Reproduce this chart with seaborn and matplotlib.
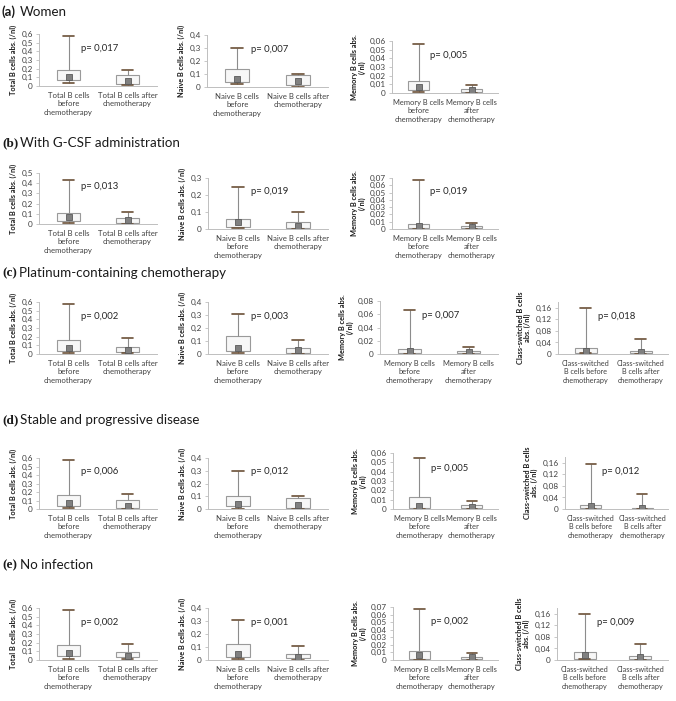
import numpy as np
import pandas as pd
import matplotlib
matplotlib.use("Agg")
import matplotlib.pyplot as plt
import seaborn as sns
from matplotlib.ticker import FuncFormatter, FixedLocator

sns.set_style("white")
plt.rcParams['font.family'] = ['Lato', 'DejaVu Sans']

# Row headings
row_labels = ['(a)', '(b)', '(c)', '(d)', '(e)']
row_titles = ['Women', 'With G-CSF administration', 'Platinum-containing chemotherapy',
              'Stable and progressive disease', 'No infection']

# Five-number summaries per row: min, q1, median, q3, max
total_before = [[0.04, 0.07, 0.10, 0.18, 0.58], [0.01, 0.03, 0.07, 0.105, 0.43],
                [0.015, 0.04, 0.075, 0.165, 0.58], [0.01, 0.03, 0.065, 0.165, 0.58],
                [0.015, 0.045, 0.08, 0.17, 0.58]]
total_after = [[0.01, 0.02, 0.06, 0.13, 0.18], [0.003, 0.01, 0.04, 0.058, 0.12],
               [0.01, 0.02, 0.05, 0.08, 0.18], [0.005, 0.012, 0.04, 0.11, 0.18],
               [0.015, 0.03, 0.05, 0.09, 0.18]]
naive_before = [[0.02, 0.04, 0.065, 0.14, 0.30], [0.005, 0.01, 0.04, 0.06, 0.25],
                [0.005, 0.02, 0.05, 0.14, 0.31], [0.0, 0.02, 0.04, 0.10, 0.30],
                [0.005, 0.025, 0.045, 0.12, 0.305]]
naive_after = [[0.0, 0.015, 0.045, 0.095, 0.10], [0.0, 0.005, 0.02, 0.04, 0.10],
               [0.0, 0.01, 0.03, 0.05, 0.105], [0.0, 0.01, 0.03, 0.085, 0.10],
               [0.0, 0.015, 0.025, 0.048, 0.104]]
memory_before = [[0.0015, 0.003, 0.007, 0.014, 0.056], [0.0, 0.001, 0.0045, 0.007, 0.067],
                 [0.0, 0.002, 0.004, 0.007, 0.067], [0.0, 0.001, 0.003, 0.013, 0.055],
                 [0.0, 0.001, 0.006, 0.012, 0.067]]
memory_after = [[0.0, 0.001, 0.003, 0.005, 0.009], [0.0, 0.001, 0.0025, 0.004, 0.008],
                [0.0, 0.0015, 0.003, 0.005, 0.010], [0.0, 0.001, 0.002, 0.004, 0.009],
                [0.0, 0.001, 0.0035, 0.004, 0.009]]
# class-switched only in rows c, d, e
switched_before = [[0.002, 0.005, 0.012, 0.02, 0.16], [0.0, 0.004, 0.009, 0.015, 0.157],
                   [0.002, 0.005, 0.018, 0.027, 0.158]]
switched_after = [[0.0, 0.002, 0.006, 0.01, 0.052], [0.0, 0.001, 0.004, 0.004, 0.053],
                  [0.0, 0.003, 0.009, 0.015, 0.054]]

p_total = ['0,017', '0,013', '0,002', '0,006', '0,002']
p_naive = ['0,007', '0,019', '0,003', '0,012', '0,001']
p_memory = ['0,005', '0,019', '0,007', '0,005', '0,002']
p_switched = ['0,018', '0,012', '0,009']

total_ticks = ['Total B cells\nbefore\nchemotherapy', 'Total B cells after\nchemotherapy']
naive_ticks = ['Naive B cells\nbefore\nchemotherapy', 'Naive B cells after\nchemotherapy']
memory_ticks = ['Memory B cells\nbefore\nchemotherapy', 'Memory B cells\nafter\nchemotherapy']
switched_ticks = ['Class-switched\nB cells before\nchemotherapy', 'Class-switched\nB cells after\nchemotherapy']

total_ylabel = 'Total B cells abs. (/nl)'
naive_ylabel = 'Naive B cells abs. (/nl)'
memory_ylabel = 'Memory B cells abs.\n(/nl)'
switched_ylabel = 'Class-switched B cells\nabs. (/nl)'

# y axis max and tick step per row
total_ymax = [0.6, 0.5, 0.6, 0.6, 0.6]
naive_ymax = [0.4, 0.3, 0.4, 0.4, 0.4]
memory_ymax = [0.06, 0.07, 0.08, 0.06, 0.07]
memory_step = [0.01, 0.01, 0.02, 0.01, 0.01]

W, H = 676, 701
fig = plt.figure(figsize=(W / 100, H / 100), dpi=100)

# axes boxes in pixels: left, right, top, bottom
layout = {
    0: [(39, 157, 34, 86), (207, 328, 35, 87), (392, 498, 41, 93)],
    1: [(39, 157, 173, 224), (208, 328, 178, 229), (392, 498, 178, 229)],
    2: [(39, 157, 302, 354), (208, 328, 302, 354), (380, 498, 301, 354), (558, 668, 302, 354)],
    3: [(39, 157, 458, 509), (208, 328, 458, 509), (393, 498, 453, 509), (565, 668, 457, 509)],
    4: [(39, 157, 608, 660), (208, 328, 608, 660), (393, 498, 607, 660), (557, 668, 608, 660)],
}
title_y = [12, 143, 273, 420, 565]
title_x = [20, 20, 19, 20, 20]

grey_axis = '#bfbfbf'
text_col = '#404040'


def fmt(v, pos):
    if abs(v) < 1e-9:
        return '0'
    s = ('%.2f' % v).rstrip('0')
    return s.replace('.', ',')


def panel(rect, before, after, ticks, ylabel, ymax, step, ptxt, tick_top=None, tick_size=5.6):
    l, r, t, b = rect
    ax = fig.add_axes([l / W, 1 - b / H, (r - l) / W, (b - t) / H])
    df = pd.DataFrame({'group': [ticks[0]] * 5 + [ticks[1]] * 5,
                       'value': before + after})
    sns.boxplot(data=df, x='group', y='value', order=ticks, whis=(0, 100), width=0.4,
                color='#f7f7f7', linecolor='#9a9a9a', linewidth=0.8,
                medianprops={'visible': False},
                capprops={'color': '#6b5037', 'linewidth': 1.2},
                whiskerprops={'color': '#8c8c8c', 'linewidth': 0.8}, ax=ax)
    sns.pointplot(x=ticks, y=[before[2], after[2]], order=ticks, marker='s',
                  linestyle='none', color='#808080', markersize=4.8,
                  markeredgecolor='#595959', markeredgewidth=0.6, errorbar=None, ax=ax)
    ax.set_xlim(-0.5, 1.5)
    ax.set_ylim(0, ymax)
    top = ymax if tick_top is None else tick_top
    ax.yaxis.set_major_locator(FixedLocator(np.round(np.arange(0, top + step / 2, step), 4)))
    ax.yaxis.set_major_formatter(FuncFormatter(fmt))
    ax.set_xticks([0, 1])
    ax.set_xticklabels(ticks, fontsize=tick_size, color=text_col, linespacing=1.25)
    ax.tick_params(axis='x', length=0, pad=4)
    ax.tick_params(axis='y', length=2.5, width=0.6, color=grey_axis, labelsize=5.9,
                   labelcolor=text_col, pad=2, left=True)
    ax.set_xlabel('')
    ax.set_ylabel(ylabel, fontsize=5.3, fontweight='bold', color='#1a1a1a', labelpad=3,
                  linespacing=1.1)
    for s in ['top', 'right']:
        ax.spines[s].set_visible(False)
    for s in ['left', 'bottom']:
        ax.spines[s].set_color(grey_axis)
        ax.spines[s].set_linewidth(0.7)
    ax.text(0.36, 0.73, 'p= ' + ptxt, transform=ax.transAxes, fontsize=6.8,
            color='#262626', ha='left', va='center')
    return ax


for i in range(5):
    rects = layout[i]
    panel(rects[0], total_before[i], total_after[i], total_ticks, total_ylabel,
          total_ymax[i], 0.1, p_total[i])
    panel(rects[1], naive_before[i], naive_after[i], naive_ticks, naive_ylabel,
          naive_ymax[i], 0.1, p_naive[i])
    panel(rects[2], memory_before[i], memory_after[i], memory_ticks, memory_ylabel,
          memory_ymax[i], memory_step[i], p_memory[i], tick_size=5.4)
    if i >= 2:
        j = i - 2
        panel(rects[3], switched_before[j], switched_after[j], switched_ticks, switched_ylabel,
              0.18, 0.04, p_switched[j], tick_top=0.16, tick_size=5.2)

    lab_family = ['Lato', 'DejaVu Sans'] if i == 0 else ['Liberation Serif', 'DejaVu Serif']
    fig.text(2 / W, 1 - title_y[i] / H, row_labels[i], fontsize=9.5, fontweight='bold',
             family=lab_family, va='center', ha='left', color='#1a1a1a')
    fig.text(title_x[i] / W, 1 - title_y[i] / H, row_titles[i], fontsize=9.6,
             va='center', ha='left', color='#1a1a1a')

fig.savefig('out.png', dpi=100, facecolor='white')
